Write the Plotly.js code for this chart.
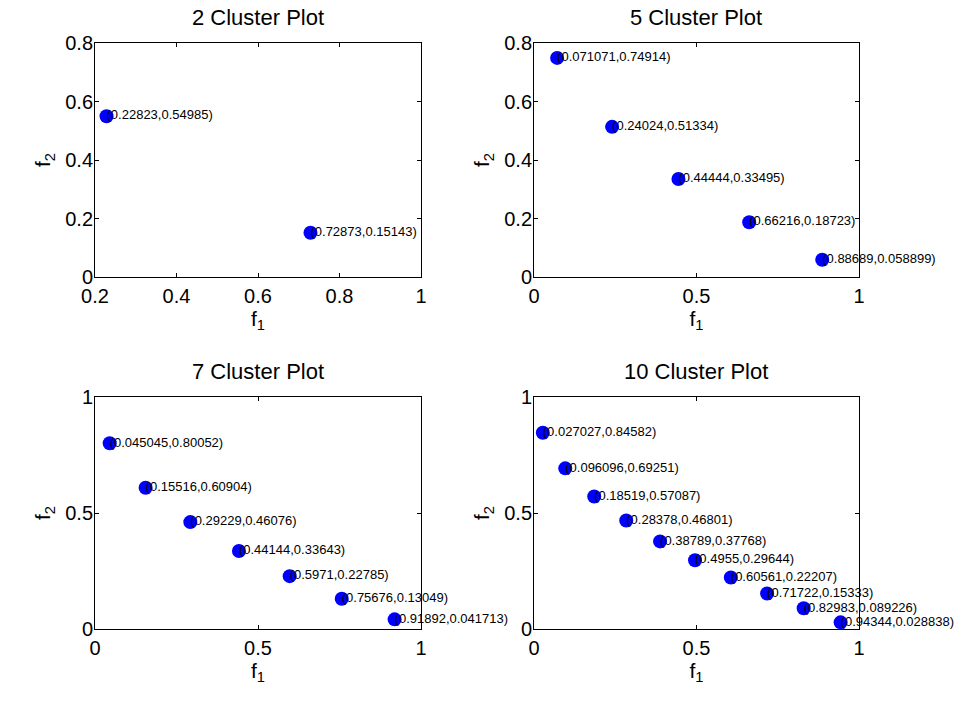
<!DOCTYPE html>
<html>
<head>
<meta charset="utf-8">
<script src="https://cdn.plot.ly/plotly-3.0.1.min.js"></script>
<style>html,body{margin:0;padding:0;background:#fff;}#chart{width:956px;height:704px;}</style>
</head>
<body>
<div id="chart"></div>
<script>
// ---- data ----
var titles = ["2 Cluster Plot", "5 Cluster Plot", "7 Cluster Plot", "10 Cluster Plot"];
var f1_2 = [0.22823, 0.72873];
var f2_2 = [0.54985, 0.15143];
var f1_5 = [0.071071, 0.24024, 0.44444, 0.66216, 0.88689];
var f2_5 = [0.74914, 0.51334, 0.33495, 0.18723, 0.058899];
var f1_7 = [0.045045, 0.15516, 0.29229, 0.44144, 0.5971, 0.75676, 0.91892];
var f2_7 = [0.80052, 0.60904, 0.46076, 0.33643, 0.22785, 0.13049, 0.041713];
var f1_10 = [0.027027, 0.096096, 0.18519, 0.28378, 0.38789, 0.4955, 0.60561, 0.71722, 0.82983, 0.94344];
var f2_10 = [0.84582, 0.69251, 0.57087, 0.46801, 0.37768, 0.29644, 0.22207, 0.15333, 0.089226, 0.028838];
var xTicks1 = [0.2, 0.4, 0.6, 0.8, 1];
var yTicks1 = [0, 0.2, 0.4, 0.6, 0.8];
var halfTicks = [0, 0.5, 1];

var sets = [[f1_2, f2_2], [f1_5, f2_5], [f1_7, f2_7], [f1_10, f2_10]];
function fmt(v) { return String(Number(v.toPrecision(5))); }

var font = "Arial, 'Liberation Sans', sans-serif";
var data = [];
sets.forEach(function (s, i) {
  var ax = i === 0 ? "" : String(i + 1);
  data.push({
    x: s[0], y: s[1], type: "scatter", mode: "markers",
    marker: {color: "#0000ff", size: 14},
    xaxis: "x" + ax, yaxis: "y" + ax, hoverinfo: "none", cliponaxis: false
  });
  data.push({
    x: s[0], y: s[1], type: "scatter", mode: "text",
    text: s[0].map(function (v, k) { return "(" + fmt(v) + "," + fmt(s[1][k]) + ")"; }),
    textposition: "middle right",
    textfont: {family: font, size: 13, color: "#000"},
    xaxis: "x" + ax, yaxis: "y" + ax, hoverinfo: "none", cliponaxis: false
  });
});

function axis(domain, range, ticks, title, anchor, standoff, isY) {
  return {
    domain: domain, range: range, tickvals: ticks, ticktext: ticks.map(String),
    anchor: anchor, showgrid: false, zeroline: false,
    showline: true, linecolor: "#000", linewidth: 1, mirror: "ticks",
    ticks: "inside", ticklen: 4, tickcolor: "#000", tickwidth: 1,
    ticklabelstandoff: isY ? -3 : 1,
    tickfont: {family: font, size: 20, color: "#000"},
    title: {text: title, font: {family: font, size: 21, color: "#000"}, standoff: standoff},
    automargin: false, fixedrange: true
  };
}
var xL = [0.0994, 0.4404], xR = [0.5586, 0.8985];
var yT = [0.6065, 0.9389], yB = [0.1065, 0.4361];
var xt = "f<sub>1</sub>", yt = "f<sub>2</sub>";

var layout = {
  width: 956, height: 704, margin: {l: 0, r: 0, t: 0, b: 0},
  paper_bgcolor: "#fff", plot_bgcolor: "#fff", showlegend: false,
  font: {family: font, color: "#000"},
  xaxis: axis(xL, [0.2, 1], xTicks1, xt, "y", 4, false),
  yaxis: axis(yT, [0, 0.8], yTicks1, yt, "x", 8, true),
  xaxis2: axis(xR, [0, 1], halfTicks, xt, "y2", 4, false),
  yaxis2: axis(yT, [0, 0.8], yTicks1, yt, "x2", 8, true),
  xaxis3: axis(xL, [0, 1], halfTicks, xt, "y3", 4, false),
  yaxis3: axis(yB, [0, 1], halfTicks, yt, "x3", 8, true),
  xaxis4: axis(xR, [0, 1], halfTicks, xt, "y4", 4, false),
  yaxis4: axis(yB, [0, 1], halfTicks, yt, "x4", 8, true),
  annotations: titles.map(function (t, i) {
    var xd = (i % 2 === 0) ? xL : xR, yd = i < 2 ? yT : yB;
    return {text: t, xref: "paper", yref: "paper", x: (xd[0] + xd[1]) / 2, y: yd[1],
      xanchor: "center", yanchor: "bottom", yshift: 11, showarrow: false,
      font: {family: font, size: 22, color: "#000"}};
  })
};
Plotly.newPlot("chart", data, layout, {displayModeBar: false, staticPlot: true});
</script>
</body>
</html>
